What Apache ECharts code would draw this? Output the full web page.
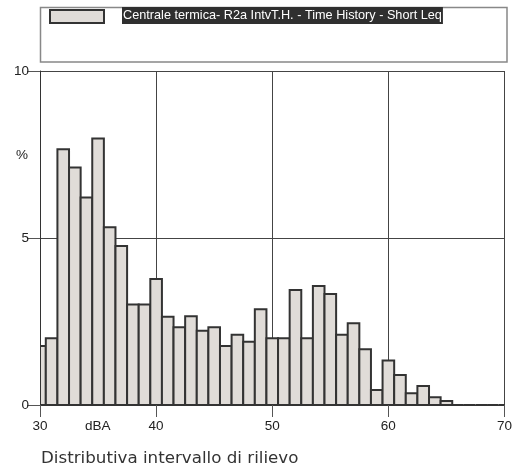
<!DOCTYPE html>
<html>
<head>
<meta charset="utf-8">
<script src="https://cdn.jsdelivr.net/npm/echarts@6/dist/echarts.min.js"></script>
<style>
  html, body { margin: 0; padding: 0; background: #fff; }
  #chart { width: 515px; height: 470px; }
</style>
</head>
<body>
<div id="chart"></div>
<script>
// Level classes (dBA, bin centres) and share of time in each class (%)
const levels = [30, 31, 32, 33, 34, 35, 36, 37, 38, 39,
                40, 41, 42, 43, 44, 45, 46, 47, 48, 49,
                50, 51, 52, 53, 54, 55, 56, 57, 58, 59,
                60, 61, 62, 63, 64, 65, 66, 67, 68, 69, 70];
const percent = [1.77, 2.0, 7.66, 7.11, 6.21, 7.98, 5.32, 4.76, 3.01, 3.01,
                 3.77, 2.64, 2.33, 2.66, 2.22, 2.33, 1.77, 2.10, 1.89, 2.87,
                 2.0, 2.0, 3.44, 2.0, 3.56, 3.32, 2.10, 2.45, 1.67, 0.45,
                 1.33, 0.9, 0.35, 0.57, 0.23, 0.12, 0, 0, 0, 0, 0];
const seriesName = 'Centrale termica- R2a IntvT.H. - Time History - Short Leq';
const chartTitle = 'Distributiva intervallo di rilievo';
const xUnit = 'dBA';
const yUnit = '%';

const chart = echarts.init(document.getElementById('chart'), null, { renderer: 'canvas' });

const barData = levels.map((l, i) => [l, percent[i]]);

const labelFont = 'Liberation Sans, Arial, sans-serif';

chart.setOption({
  animation: false,
  backgroundColor: '#fff',
  title: {
    text: chartTitle,
    left: 41,
    top: 450,
    padding: 0,
    textStyle: { fontFamily: 'DejaVu Sans', fontSize: 16.7, fontWeight: 'normal', color: '#333' }
  },
  grid: { left: 40, top: 71, right: 8, bottom: 65, containLabel: false },
  xAxis: {
    type: 'value', min: 30, max: 70, interval: 10,
    axisLine: { show: true, onZero: false, lineStyle: { color: '#333', width: 1 } },
    axisTick: { show: true, length: 12, lineStyle: { color: '#555' } },
    axisLabel: { margin: 14, color: '#222', fontFamily: labelFont, fontSize: 13.5 },
    splitLine: { show: true, lineStyle: { color: '#444', width: 1 } }
  },
  yAxis: {
    type: 'value', min: 0, max: 10, interval: 5,
    axisLine: { show: true, lineStyle: { color: '#333', width: 1 } },
    axisTick: { show: true, length: 13, lineStyle: { color: '#555' } },
    axisLabel: { margin: 11, color: '#222', fontFamily: labelFont, fontSize: 13.5 },
    splitLine: { show: true, lineStyle: { color: '#444', width: 1 } }
  },
  series: [{
    type: 'custom',
    name: seriesName,
    data: barData,
    clip: true,
    encode: { x: 0, y: 1 },
    renderItem: function (params, api) {
      const x = api.value(0);
      const y = api.value(1);
      const p0 = api.coord([x - 0.5, y]);
      const p1 = api.coord([x + 0.5, 0]);
      const cs = params.coordSys;
      const left = Math.max(p0[0], cs.x);
      const right = Math.min(p1[0], cs.x + cs.width);
      if (right <= left) return null;
      return {
        type: 'rect',
        shape: { x: left, y: p0[1], width: right - left, height: p1[1] - p0[1] },
        style: { fill: '#e0dcd8', stroke: '#333', lineWidth: 2 }
      };
    },
    z: 3
  }],
  graphic: [
    { type: 'rect', shape: { x: 40.5, y: 7.5, width: 466.5, height: 54.5 },
      style: { fill: 'none', stroke: '#888', lineWidth: 1.5 } },
    { type: 'rect', shape: { x: 50, y: 10, width: 54, height: 13 },
      style: { fill: '#e0dcd8', stroke: '#333', lineWidth: 2 } },
    { type: 'text', x: 122, y: 7,
      style: { text: seriesName, fill: '#fff', backgroundColor: '#2f2f2f',
               font: '12.7px "Liberation Sans", Arial, sans-serif', padding: [2, 1, 2, 1] } },
    { type: 'text', x: 85, y: 419,
      style: { text: xUnit, fill: '#222', font: '13.5px "Liberation Sans", Arial, sans-serif' } },
    { type: 'text', x: 16, y: 148,
      style: { text: yUnit, fill: '#222', font: '13.5px "Liberation Sans", Arial, sans-serif' } }
  ]
});
</script>
</body>
</html>
